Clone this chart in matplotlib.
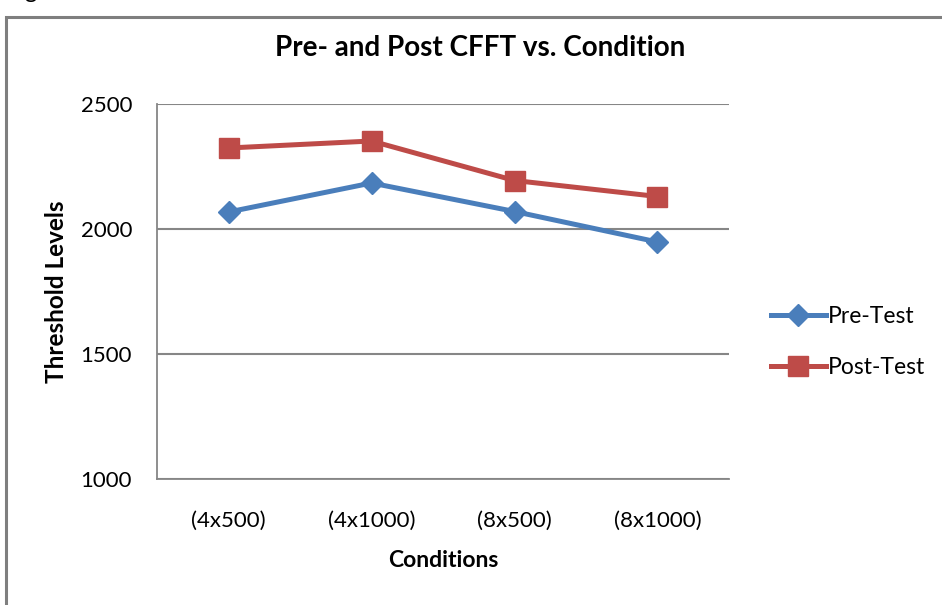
import matplotlib.pyplot as plt
from matplotlib.patches import Rectangle

# valeurs
conditions = ["(4x500)", "(4x1000)", "(8x500)", "(8x1000)"]
pre_test = [2068, 2184, 2070, 1948]
post_test = [2324, 2352, 2194, 2130]
y_ticks = [1000, 1500, 2000, 2500]

plt.rcParams['font.family'] = ['Lato', 'DejaVu Sans']

fig = plt.figure(figsize=(9.42, 6.05), dpi=100)
W, H = 942, 605

# cadre du graphique (coupé à droite et en bas)
fig.patches.append(Rectangle((6 / W, -0.1), 1.2, 1 - 17 / H + 0.1,
                             transform=fig.transFigure, fill=False,
                             edgecolor='#7f7f7f', linewidth=2.2))
# bout de texte du document au-dessus
fig.text(24 / W, 1 + 2 / H, "g", fontsize=17, va='baseline', ha='left')

ax = fig.add_axes([157 / W, 1 - 479 / H, (729 - 157) / W, (479 - 104) / H])

x = range(len(conditions))
ax.plot(x, pre_test, color='#4a7ebb', linewidth=3.6, marker='D',
        markersize=11, label='Pre-Test')
ax.plot(x, post_test, color='#be4b48', linewidth=3.6, marker='s',
        markersize=14.5, label='Post-Test')

ax.set_xlim(-0.5, 3.5)
ax.set_ylim(1000, 2500)
ax.set_yticks(y_ticks)
ax.set_xticks(list(x))
ax.set_xticklabels(conditions)
ax.tick_params(length=0, labelsize=16)
ax.tick_params(axis='x', pad=23)
ax.tick_params(axis='y', pad=18)
ax.yaxis.grid(True, color='#868686', linewidth=1.5)
ax.set_axisbelow(True)
for s in ['top', 'right']:
    ax.spines[s].set_visible(False)
for s in ['left', 'bottom']:
    ax.spines[s].set_color('#868686')
    ax.spines[s].set_linewidth(1.3)

ax.set_xlabel("Conditions", fontsize=16.5, fontweight='bold', labelpad=14)
ax.set_ylabel("Threshold Levels", fontsize=17.5, fontweight='bold')
ax.yaxis.set_label_coords(68 / W, 1 - 292 / H, transform=fig.transFigure)
fig.text(480 / W, 1 - 48 / H, "Pre- and Post CFFT vs. Condition",
         fontsize=20, fontweight='bold', ha='center', va='center')

ax.legend(loc='center left', bbox_to_anchor=(750 / W, 1 - 342 / H),
          bbox_transform=fig.transFigure, frameon=False, fontsize=16.5,
          handlelength=2.4, handletextpad=0.1, labelspacing=1.3)

fig.savefig("out.png", dpi=100)
